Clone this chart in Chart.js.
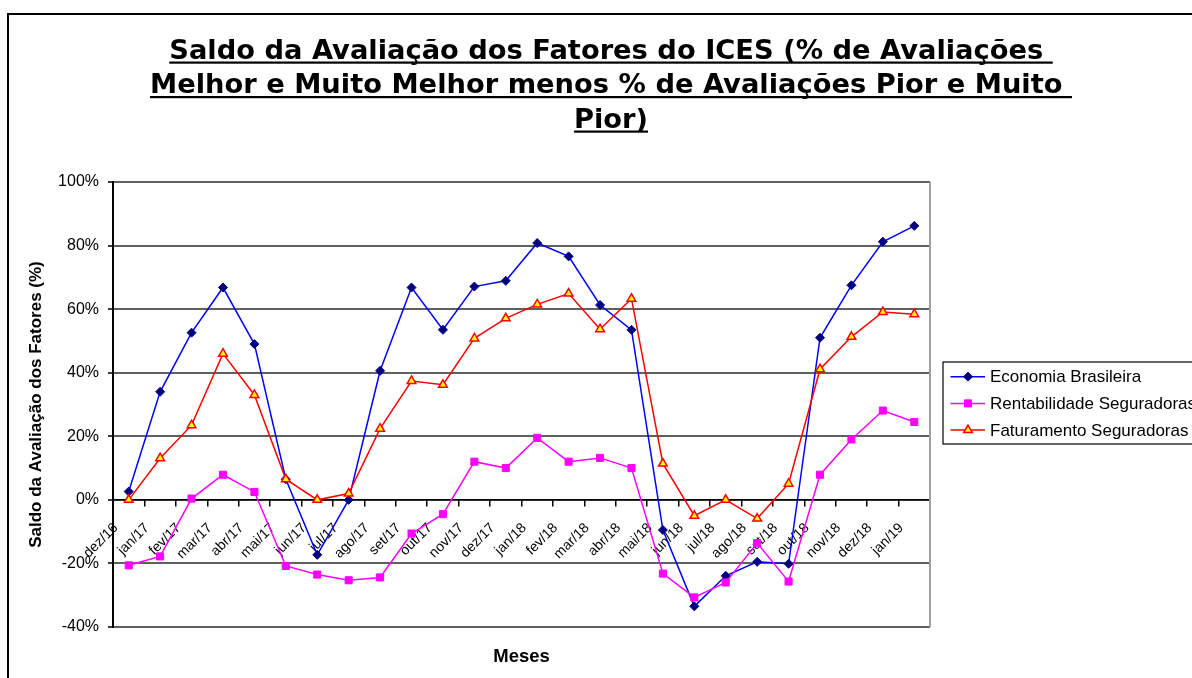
<!DOCTYPE html>
<html>
<head>
<meta charset="utf-8">
<script src="https://cdn.jsdelivr.net/npm/chart.js@4/dist/chart.umd.min.js"></script>
<style>
  html, body { margin: 0; padding: 0; background: #fff; overflow: hidden; width: 1192px; height: 678px; }
  #frame { position: absolute; left: 7px; top: 13px; border: 2px solid #000; width: 1204px; height: 680px; background: #fff; }
  canvas { display: block; }
</style>
</head>
<body>
<div id="frame"><canvas id="c" width="1204" height="680"></canvas></div>
<script>
const titleLines = [
  'Saldo da Avaliação dos Fatores do ICES (% de Avaliações ',
  'Melhor e Muito Melhor menos % de Avaliações Pior e Muito ',
  'Pior)'
];
const yAxisTitle = 'Saldo da Avaliação dos Fatores (%)';
const xAxisTitle = 'Meses';
const categories = ['dez/16','jan/17','fev/17','mar/17','abr/17','mai/17','jun/17','jul/17','ago/17','set/17','out/17','nov/17','dez/17','jan/18','fev/18','mar/18','abr/18','mai/18','jun/18','jul/18','ago/18','set/18','out/18','nov/18','dez/18','jan/19'];
const seriesNames = ['Economia Brasileira', 'Rentabilidade Seguradoras', 'Faturamento Seguradoras'];
const economia = [2.6, 34, 52.6, 66.8, 49, 6.5, -17.3, 0, 40.6, 66.8, 53.5, 67.1, 68.9, 80.8, 76.6, 61.3, 53.5, -9.5, -33.5, -23.9, -19.5, -20.1, 51, 67.5, 81.2, 86.2];
const rentabilidade = [-20.6, -17.8, 0.4, 7.9, 2.5, -20.8, -23.5, -25.3, -24.4, -10.6, -4.5, 12, 10, 19.5, 12, 13.2, 10, -23.2, -30.7, -26, -13.6, -25.7, 7.9, 19, 28.1, 24.5];
const faturamento = [0, 13.1, 23.5, 46, 33, 6.5, 0, 2, 22.4, 37.4, 36.2, 50.8, 57.1, 61.5, 64.9, 53.7, 63.3, 11.4, -5, 0, -5.9, 5.1, 41.1, 51.3, 59.1, 58.4];
const yTicks = { min: -40, max: 100, step: 20 };

Chart.defaults.font.family = '"Liberation Sans", Arial, sans-serif';
Chart.defaults.color = '#000';

const titlePlugin = {
  id: 'ulTitle',
  afterDraw(chart) {
    const ctx = chart.ctx;
    ctx.save();
    ctx.font = 'bold 27.3px "DejaVu Sans", Verdana, sans-serif';
    ctx.fillStyle = '#000';
    ctx.textAlign = 'left';
    ctx.textBaseline = 'alphabetic';
    titleLines.forEach((line, i) => {
      const w = ctx.measureText(line).width;
      const x = chart.width / 2 - w / 2;
      const y = 43.5 + i * 34.5;
      ctx.fillText(line, x, y);
      ctx.fillRect(x, y + 3, w, 2.2);
    });
    ctx.restore();
  }
};

const framePlugin = {
  id: 'plotFrame',
  beforeDatasetsDraw(chart) {
    const {ctx, chartArea} = chart;
    ctx.save();
    ctx.strokeStyle = '#a0a0a0';
    ctx.lineWidth = 2;
    ctx.beginPath();
    ctx.moveTo(chartArea.right, chartArea.top);
    ctx.lineTo(chartArea.right, chartArea.bottom);
    ctx.stroke();
    ctx.restore();
  }
};

const legendPlugin = {
  id: 'boxLegend',
  afterDraw(chart) {
    const ctx = chart.ctx;
    const bx = 934, by = 347, bw = 262, bh = 82;
    ctx.save();
    ctx.strokeStyle = '#000';
    ctx.lineWidth = 1.2;
    ctx.strokeRect(bx, by, bw, bh);
    ctx.font = '17px "Liberation Sans", Arial, sans-serif';
    ctx.textBaseline = 'middle';
    ctx.textAlign = 'left';
    chart.data.datasets.forEach((ds, i) => {
      const cy = by + 14.7 + i * 26.7;
      ctx.strokeStyle = ds.borderColor;
      ctx.lineWidth = ds.borderWidth;
      ctx.beginPath();
      ctx.moveTo(bx + 7.5, cy);
      ctx.lineTo(bx + 42, cy);
      ctx.stroke();
      ctx.fillStyle = ds.pointBackgroundColor;
      ctx.strokeStyle = ds.pointBorderColor;
      ctx.lineWidth = ds.pointBorderWidth;
      Chart.helpers.drawPoint(ctx, { pointStyle: ds.pointStyle, radius: ds.pointRadius, rotation: 0, borderWidth: ds.pointBorderWidth }, bx + 25, cy);
      ctx.fillStyle = '#000';
      ctx.fillText(ds.label, bx + 47, cy + 1);
    });
    ctx.restore();
  }
};

new Chart(document.getElementById('c'), {
  type: 'line',
  data: {
    labels: categories,
    datasets: [
      { label: seriesNames[0], data: economia, borderColor: '#0000ff', borderWidth: 1.5,
        pointStyle: 'rectRot', pointRadius: 4.5, pointBackgroundColor: '#000080', pointBorderColor: '#000080', pointBorderWidth: 1, order: 3 },
      { label: seriesNames[1], data: rentabilidade, borderColor: '#ff00ff', borderWidth: 1.5,
        pointStyle: 'rect', pointRadius: 5, pointBackgroundColor: '#ff00ff', pointBorderColor: '#ff00ff', pointBorderWidth: 1, order: 2 },
      { label: seriesNames[2], data: faturamento, borderColor: '#ff0000', borderWidth: 1.5,
        pointStyle: 'triangle', pointRadius: 5, pointBackgroundColor: '#ffff00', pointBorderColor: '#ff0000', pointBorderWidth: 1.5, order: 1 }
    ]
  },
  options: {
    responsive: false,
    animation: false,
    layout: { padding: { top: 167, left: 0, right: 283, bottom: 0 } },
    plugins: { legend: { display: false }, title: { display: false }, tooltip: { enabled: false } },
    elements: { line: { tension: 0 } },
    scales: {
      y: {
        min: yTicks.min, max: yTicks.max,
        afterFit(s) { s.width = 104; },
        ticks: { stepSize: yTicks.step, font: { size: 16 }, padding: 9, callback: v => v + '%' },
        grid: { color: '#606060', lineWidth: 2, tickLength: 5, tickColor: '#000', tickWidth: 1.5 },
        border: { display: true, color: '#000', width: 2 },
        title: { display: true, text: yAxisTitle, font: { size: 17, weight: 'bold' }, padding: { top: 17 } }
      },
      x: {
        type: 'category',
        offset: true,
        position: { y: 0 },
        afterFit(s) { s.height = 0; },
        ticks: { autoSkip: false, maxRotation: 45, minRotation: 45, font: { size: 14 }, padding: 14, labelOffset: -13 },
        grid: { display: true, offset: true, drawOnChartArea: false, drawTicks: true, tickLength: 6, color: '#000', lineWidth: 1.5 },
        border: { display: true, color: '#000', width: 1.5 }
      },
      x2: {
        type: 'category',
        labels: categories,
        position: 'bottom',
        afterFit(s) { s.height = 68; },
        ticks: { display: false },
        grid: { display: false, drawTicks: false },
        border: { display: false },
        title: { display: true, text: xAxisTitle, font: { size: 18.5, weight: 'bold' }, padding: { bottom: 27 } }
      }
    }
  },
  plugins: [titlePlugin, framePlugin, legendPlugin]
});
</script>
</body>
</html>
